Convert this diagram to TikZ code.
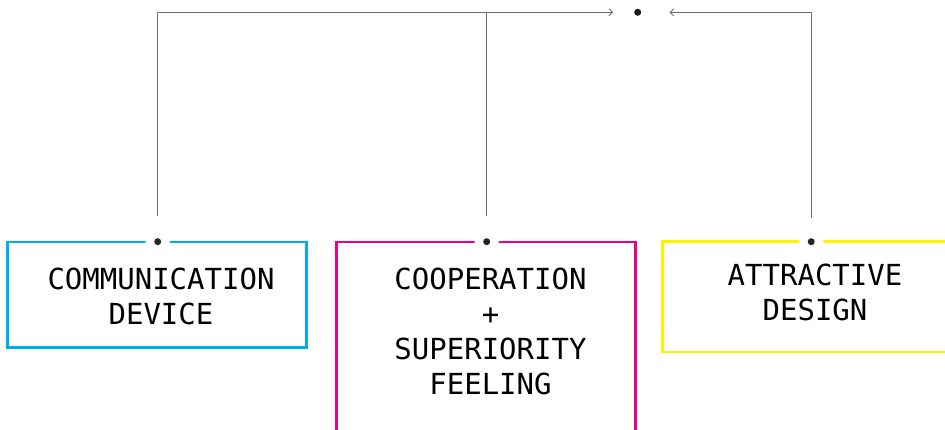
\documentclass[tikz,border=0pt]{standalone}
\usepackage{fontspec}
\setmonofont{DejaVu Sans Mono}
\usetikzlibrary{arrows.meta}
\definecolor{cy}{HTML}{00AEEF}
\definecolor{mg}{HTML}{EC008C}
\definecolor{yl}{HTML}{FFF200}
\definecolor{ln}{HTML}{6E6E6E}
\begin{document}
\begin{tikzpicture}[x=1pt,y=-1pt,
 box/.style={draw=#1, line width=2.8pt, rectangle, inner sep=0pt},
 txt/.style={font=\ttfamily\fontsize{29}{35}\selectfont, align=center, inner sep=0pt},
 port/.style={circle, fill=black!85, minimum size=7pt, inner sep=0pt, preaction={draw=white, line width=16pt}},
 hubdot/.style={circle, fill=black!90, minimum size=7pt, inner sep=0pt},
 conn/.style={draw=ln, line width=0.9pt},
 tip/.style={-{Straight Barb[length=3.5pt,width=7pt]}}]
\useasboundingbox (0,0) rectangle (945,430);
\clip (0,0) rectangle (945,430);
% boxes
\node[box=cy, minimum width=299.3pt, minimum height=105.5pt] (b1) at (157.2,294.8) {};
\node[box=mg, minimum width=299.1pt, minimum height=300pt] (b2) at (485.8,392) {};
\node[box=yl, minimum width=400pt, minimum height=110.2pt] (b3) at (862.2,296.9) {};
% texts
\node[txt] (t1) at (161,296) {COMMUNICATION\\DEVICE};
\node[txt] (t2) at (490.5,331) {COOPERATION\\+\\SUPERIORITY\\FEELING};
\node[txt] (t3) at (815,292) {ATTRACTIVE\\DESIGN};
% ports
\node[port] (d1) at (157.7,241.7) {};
\node[port] (d2) at (486.7,241.7) {};
\node[port] (d3) at (811.2,241.7) {};
\node[hubdot] (hub) at (637.7,12.3) {};
% connectors
\draw[conn, tip, shorten <=22.2pt, shorten >=20.9pt] (d1) |- (hub);
\draw[conn, shorten <=22.2pt] (d2) -- (d2 |- hub);
\draw[conn, tip, shorten <=20.2pt, shorten >=28.1pt] (d3) |- (hub);
\end{tikzpicture}
\end{document}
